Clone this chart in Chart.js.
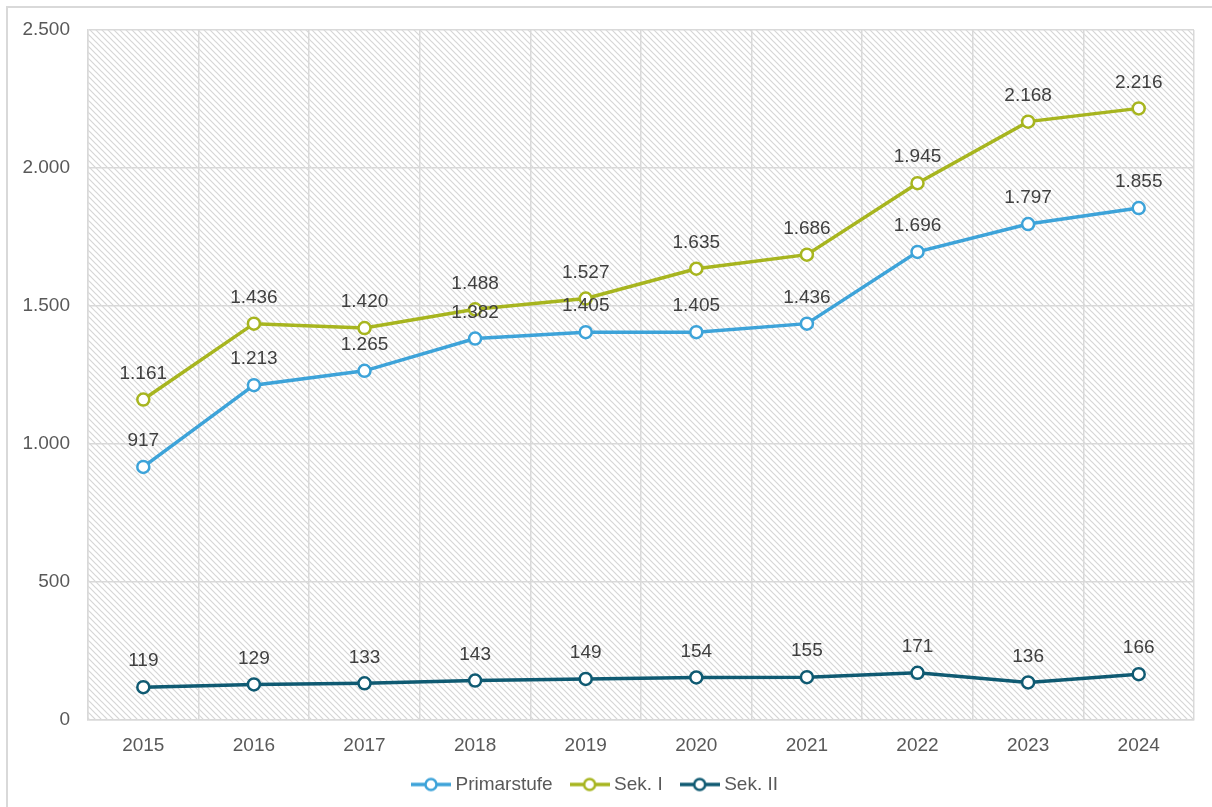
<!DOCTYPE html>
<html>
<head>
<meta charset="utf-8">
<script src="https://cdn.jsdelivr.net/npm/chart.js@4/dist/chart.umd.min.js"></script>
<style>
  html, body { margin: 0; padding: 0; background: #fff; overflow: hidden; }
  #wrap { position: relative; width: 1212px; height: 807px; overflow: hidden; }
  #frame { position: absolute; left: 6px; top: 6px; width: 1230px; height: 830px; border: 2px solid #d9d9d9; box-sizing: border-box; pointer-events: none; }
  canvas { position: absolute; left: 0; top: 0; }
</style>
</head>
<body>
<div id="wrap">
  <canvas id="c" width="1212" height="807"></canvas>
  <div id="frame"></div>
</div>
<script>
const categories = ['2015', '2016', '2017', '2018', '2019', '2020', '2021', '2022', '2023', '2024'];
const primarstufe = [917, 1213, 1265, 1382, 1405, 1405, 1436, 1696, 1797, 1855];
const sekI = [1161, 1436, 1420, 1488, 1527, 1635, 1686, 1945, 2168, 2216];
const sekII = [119, 129, 133, 143, 149, 154, 155, 171, 136, 166];
const seriesNames = ['Primarstufe', 'Sek. I', 'Sek. II'];
const seriesColors = ['#3DA3D9', '#A7B51F', '#0F5A72'];
const yTicks = [0, 500, 1000, 1500, 2000, 2500];

const FONT = '"Liberation Sans", Arial, sans-serif';

function fmt(v) {
  const s = String(Math.round(v));
  return s.replace(/\B(?=(\d{3})+(?!\d))/g, '.');
}

function makeLegendIcon(color) {
  const cv = document.createElement('canvas');
  cv.width = 40; cv.height = 16;
  const g = cv.getContext('2d');
  g.strokeStyle = color; g.lineWidth = 3.5;
  g.beginPath(); g.moveTo(0, 8); g.lineTo(40, 8); g.stroke();
  g.beginPath(); g.arc(20, 8, 5.5, 0, Math.PI * 2);
  g.fillStyle = '#fff'; g.fill();
  g.lineWidth = 2.5; g.stroke();
  return cv;
}

function makeHatch() {
  const p = document.createElement('canvas');
  p.width = 6; p.height = 6;
  const g = p.getContext('2d');
  g.fillStyle = '#ffffff';
  g.fillRect(0, 0, 6, 6);
  g.strokeStyle = '#d6d6d6';
  g.lineWidth = 1.2;
  g.beginPath();
  g.moveTo(0, 0); g.lineTo(6, 6);
  g.moveTo(-3, 3); g.lineTo(3, 9);
  g.moveTo(3, -3); g.lineTo(9, 3);
  g.stroke();
  return p;
}

const hatchPlugin = {
  id: 'hatch',
  beforeDraw(chart) {
    const { ctx, chartArea: a } = chart;
    ctx.save();
    ctx.fillStyle = ctx.createPattern(makeHatch(), 'repeat');
    ctx.fillRect(a.left, a.top, a.right - a.left, a.bottom - a.top);
    ctx.restore();
  }
};

const labelPlugin = {
  id: 'valueLabels',
  afterDatasetsDraw(chart) {
    const { ctx } = chart;
    ctx.save();
    ctx.font = '19px ' + FONT;
    ctx.fillStyle = '#404040';
    ctx.textAlign = 'center';
    ctx.textBaseline = 'middle';
    chart.data.datasets.forEach((ds, i) => {
      const meta = chart.getDatasetMeta(i);
      meta.data.forEach((pt, j) => {
        ctx.fillText(fmt(ds.data[j]), pt.x, pt.y - 26);
      });
    });
    ctx.restore();
  }
};

const allSeries = [primarstufe, sekI, sekII];
const datasets = allSeries.map((d, i) => ({
  label: seriesNames[i],
  data: d,
  borderColor: seriesColors[i],
  backgroundColor: '#ffffff',
  borderWidth: 3.5,
  pointRadius: 6,
  pointHoverRadius: 6,
  pointBorderWidth: 2.5,
  pointBackgroundColor: '#ffffff',
  pointBorderColor: seriesColors[i],
  tension: 0,
  pointStyle: 'circle'
}));

new Chart(document.getElementById('c'), {
  type: 'line',
  data: { labels: categories, datasets },
  plugins: [hatchPlugin, labelPlugin],
  options: {
    responsive: false,
    animation: false,
    devicePixelRatio: 1,
    layout: { padding: { left: 0, right: 18, top: 30, bottom: 3 } },
    plugins: {
      tooltip: { enabled: false },
      legend: {
        position: 'bottom',
        labels: {
          color: '#595959',
          font: { size: 19, family: FONT },
          padding: 22,
          usePointStyle: true,
          pointStyleWidth: 30,
          boxHeight: 16,
          generateLabels(chart) {
            return chart.data.datasets.map((ds, i) => ({
              text: ds.label,
              fillStyle: ds.borderColor,
              strokeStyle: ds.borderColor,
              pointStyle: makeLegendIcon(ds.borderColor),
              fontColor: '#595959',
              lineWidth: 0,
              datasetIndex: i
            }));
          }
        }
      }
    },
    scales: {
      x: {
        offset: true,
        grid: { offset: true, color: '#d9d9d9', lineWidth: 1.5, drawTicks: false },
        border: { color: '#d9d9d9', width: 1.5 },
        ticks: {
          color: '#595959',
          padding: 14,
          font: { size: 19, family: FONT }
        },
        afterFit(scale) { scale.height = 33; }
      },
      y: {
        min: 0,
        max: 2500,
        afterBuildTicks(scale) { scale.ticks = yTicks.map(v => ({ value: v })); },
        grid: { color: '#d9d9d9', lineWidth: 1.5, drawTicks: false },
        border: { color: '#d9d9d9', width: 1.5 },
        ticks: {
          color: '#595959',
          padding: 18,
          font: { size: 19, family: FONT },
          callback: v => fmt(v)
        },
        afterFit(scale) { scale.width = 88; }
      }
    }
  }
});
</script>
</body>
</html>
